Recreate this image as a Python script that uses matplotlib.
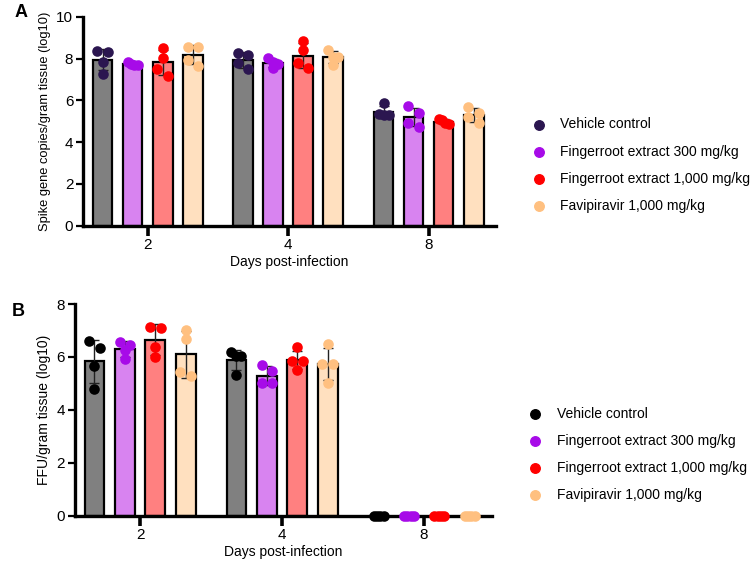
import numpy as np
import matplotlib.pyplot as plt

plt.rcParams['font.family'] = ['Liberation Sans', 'DejaVu Sans']

days = ['2', '4', '8']
groups = ['Vehicle control', 'Fingerroot extract 300 mg/kg',
          'Fingerroot extract 1,000 mg/kg', 'Favipiravir 1,000 mg/kg']

# panel A: spike gene copies/gram tissue (log10), 4 animals per group per day
spike_vehicle = [[8.34, 8.39, 7.83, 7.27], [8.18, 8.29, 7.50, 7.78], [5.87, 5.31, 5.33, 5.30]]
spike_fr300 = [[7.85, 7.70, 7.75, 7.72], [8.02, 7.86, 7.54, 7.74], [5.39, 5.74, 4.75, 4.94]]
spike_fr1000 = [[8.53, 8.05, 7.50, 7.19], [8.85, 8.42, 7.54, 7.78], [4.85, 5.12, 4.90, 5.05]]
spike_fav = [[8.58, 8.58, 7.66, 7.94], [8.42, 8.10, 7.70, 8.10], [5.68, 5.39, 5.23, 4.91]]

# panel B: FFU/gram tissue (log10)
ffu_vehicle = [[6.33, 6.61, 5.64, 4.79], [6.18, 6.05, 6.02, 5.32], [0, 0, 0, 0]]
ffu_fr300 = [[6.58, 6.46, 6.27, 5.91], [5.47, 5.70, 5.00, 5.00], [0, 0, 0, 0]]
ffu_fr1000 = [[7.11, 7.15, 6.39, 5.98], [6.36, 5.83, 5.83, 5.51], [0, 0, 0, 0]]
ffu_fav = [[7.02, 6.68, 5.42, 5.28], [6.49, 5.73, 5.73, 5.00], [0, 0, 0, 0]]

bar_colors = ['#808080', '#D883F0', '#FF8080', '#FFE0BF']
dot_colors_a = ['#2B1650', '#A70BE8', '#FF0000', '#FFC080']
dot_colors_b = ['#000000', '#A70BE8', '#FF0000', '#FFC080']

bar_w = 0.14
step = 0.214
dot_px = 10.5


def swarm(ax, x0, vals, color):
    # dots at nearly the same height go side by side, centred on the bar
    pts = [ax.transData.transform((x0, v)) for v in vals]
    order = sorted(range(len(vals)), key=lambda i: -vals[i])
    rows = []
    for i in order:
        if rows and abs(pts[rows[-1][0]][1] - pts[i][1]) < 8:
            rows[-1].append(i)
        else:
            rows.append([i])
    placed = []
    for row in rows:
        n = len(row)
        gap = dot_px if n <= 2 else 10.0 / (n - 1)
        for k, i in enumerate(row):
            cx = pts[i][0] + (k - (n - 1) / 2) * gap
            placed.append((cx, pts[i][1]))
    xy = ax.transData.inverted().transform(placed)
    ax.scatter(xy[:, 0], xy[:, 1], s=58, color=color, zorder=5, clip_on=False,
               linewidths=0)


def panel(ax, data, dot_colors, ymax, ylabel, ylab_size, label, lab_xy):
    ax.set_xlim(-0.46, 2.48)
    ax.set_ylim(0, ymax)
    x = np.arange(len(days))
    for g, vals in enumerate(data):
        arr = np.array(vals)
        means = arr.mean(axis=1)
        sds = arr.std(axis=1, ddof=1)
        xpos = x + (g - 1.5) * step
        ax.bar(xpos, means, width=bar_w, color=bar_colors[g], edgecolor='black',
               linewidth=1.6, zorder=2)
        ax.errorbar(xpos, means, yerr=sds, fmt='none', ecolor='#222222',
                    elinewidth=1.0, capsize=3.5, capthick=1.0, zorder=3)
        for d in range(len(days)):
            swarm(ax, xpos[d], vals[d], dot_colors[g])
        ax.scatter([], [], s=58, color=dot_colors[g], label=groups[g])
    ax.set_xticks(x)
    ax.set_xticklabels(days)
    ax.set_xlabel('Days post-infection', fontsize=10, labelpad=2)
    ax.set_ylabel(ylabel, fontsize=ylab_size)
    for s in ['top', 'right']:
        ax.spines[s].set_visible(False)
    for s in ['left', 'bottom']:
        ax.spines[s].set_linewidth(2.4)
    ax.tick_params(axis='x', length=7, width=2.6, labelsize=11, pad=2)
    ax.tick_params(axis='y', length=5, width=1.6, labelsize=11, pad=2)
    ax.text(lab_xy[0], lab_xy[1], label, transform=ax.transAxes, fontsize=13,
            fontweight='bold', va='center')
    ax.legend(loc='center left', bbox_to_anchor=(1.04, 0.29), frameon=False,
              fontsize=10, handletextpad=0.55, labelspacing=0.95, markerscale=0.9)


fig = plt.figure(figsize=(7.55, 5.63), dpi=100)
ax_a = fig.add_axes([0.110, 0.599, 0.547, 0.371])
ax_b = fig.add_axes([0.099, 0.084, 0.553, 0.376])

panel(ax_a, [spike_vehicle, spike_fr300, spike_fr1000, spike_fav], dot_colors_a,
      10, 'Spike gene copies/gram tissue (log10)', 9.3, 'A', (-0.165, 1.02))
ax_a.set_yticks([0, 2, 4, 6, 8, 10])
panel(ax_b, [ffu_vehicle, ffu_fr300, ffu_fr1000, ffu_fav], dot_colors_b,
      8, 'FFU/gram tissue (log10)', 10, 'B', (-0.15, 0.965))
ax_b.set_yticks([0, 2, 4, 6, 8])

fig.savefig('out.png', dpi=100)
